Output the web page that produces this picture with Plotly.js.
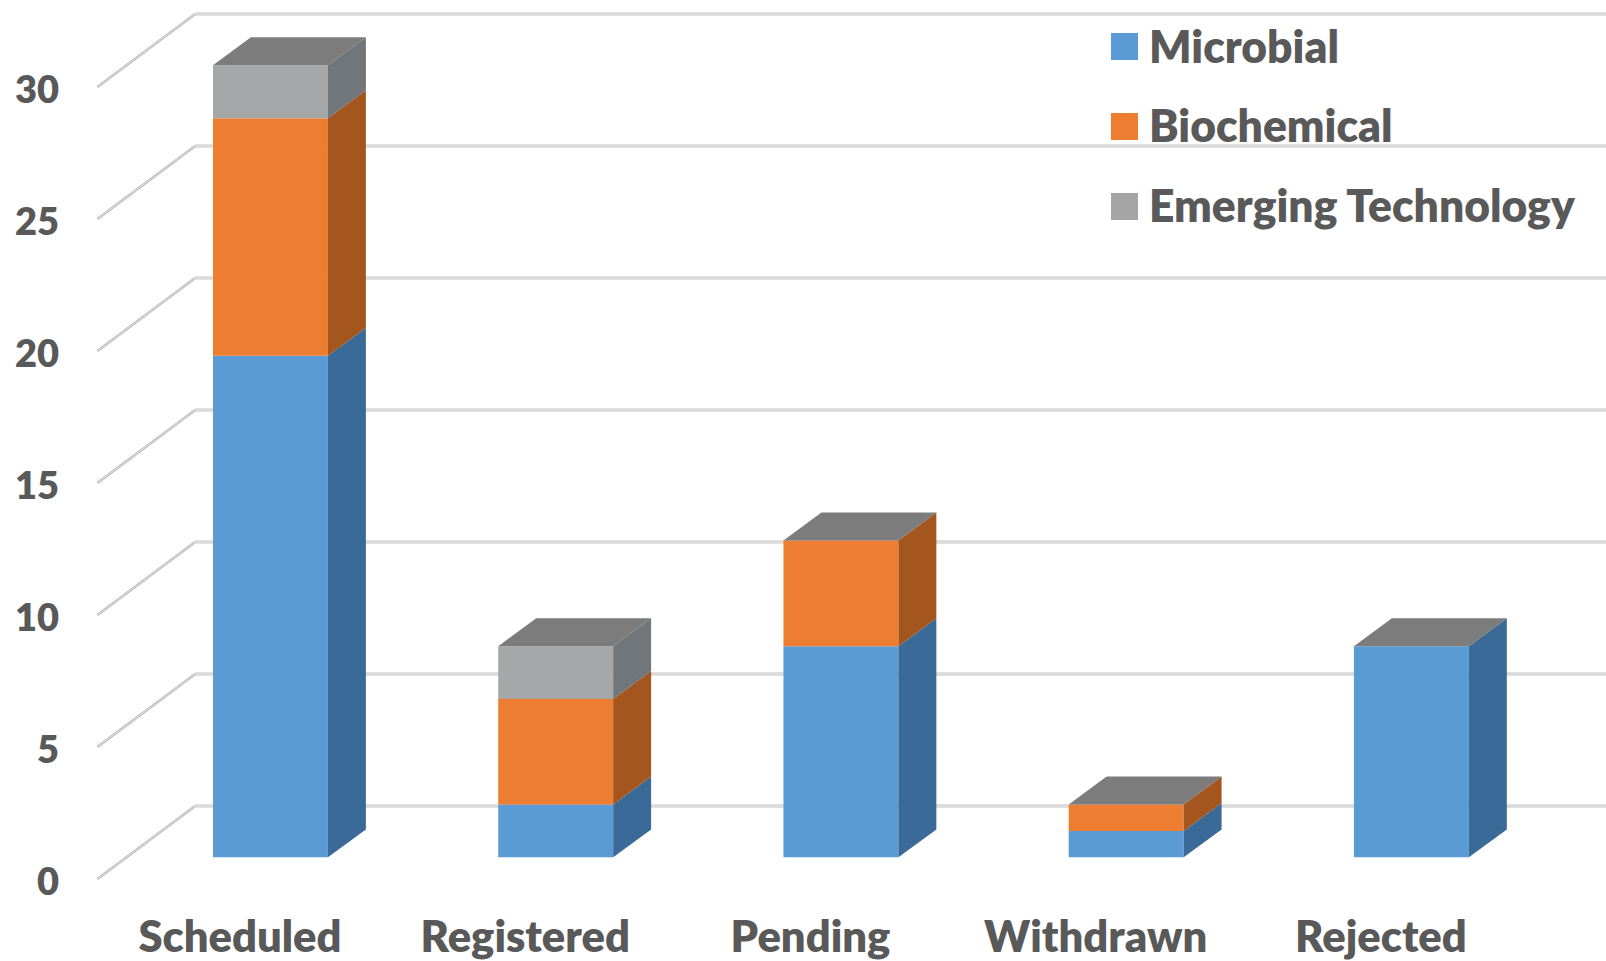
<!DOCTYPE html>
<html>
<head>
<meta charset="utf-8">
<script src="https://cdn.plot.ly/plotly-3.0.1.min.js"></script>
<style>html,body{margin:0;padding:0;background:#fff;overflow:hidden}</style>
</head>
<body>
<div id="chart" style="width:1606px;height:961px"></div>
<script>
// Stacked counts per registration status
const categories = ["Scheduled", "Registered", "Pending", "Withdrawn", "Rejected"];
const microbial = [19, 2, 8, 1, 8];
const biochemical = [9, 4, 4, 1, 0];
const emerging = [2, 2, 0, 0, 0];
const yTicks = [0, 5, 10, 15, 20, 25, 30];

const seriesList = [
  {name: "Microbial", values: microbial, front: "#5B9BD5", side: "#3A6A98"},
  {name: "Biochemical", values: biochemical, front: "#ED7D31", side: "#A5561F"},
  {name: "Emerging Technology", values: emerging, front: "#A5A7A8", side: "#70767A"}
];
const topColor = "#7C7C7C";

// Perspective of the box: bars stand on a floor between the front edge and the back wall
const barLeft = -0.0947, barWidth = 0.403;
const floorLift = 0.82;
const depthX = 0.133, depthY = 1.06;
const wallX = 0.343, wallY = 2.765;
const xStart = -0.5, xEnd = 4.79;

const positions = categories.map((_, i) => i);
const traces = [];
const running = categories.map(() => floorLift);

seriesList.forEach(s => {
  const bases = running.slice();
  traces.push({
    type: "bar", name: s.name, x: positions, y: s.values, base: bases,
    offset: barLeft, width: barWidth,
    marker: {color: s.front, line: {width: 0}}, showlegend: false,
    hovertemplate: "%{text}: " + "%{customdata}<extra>" + s.name + "</extra>",
    text: categories, textposition: "none", customdata: s.values
  });
  // right-hand face of this segment
  const sx = [], sy = [];
  positions.forEach((p, i) => {
    const xr = p + barLeft + barWidth;
    const y0 = bases[i], y1 = bases[i] + s.values[i];
    sx.push(xr, xr + depthX, xr + depthX, xr, xr, null);
    sy.push(y0, y0 + depthY, y1 + depthY, y1, y0, null);
    running[i] = y1;
  });
  traces.push({
    type: "scatter", mode: "lines", x: sx, y: sy, fill: "toself", fillcolor: s.side,
    line: {width: 0, color: s.side}, hoverinfo: "skip", showlegend: false
  });
});

// top face of every stack
const tx = [], ty = [];
positions.forEach((p, i) => {
  const xl = p + barLeft, xr = xl + barWidth, y = running[i];
  tx.push(xl, xr, xr + depthX, xl + depthX, xl, null);
  ty.push(y, y, y + depthY, y + depthY, y, null);
});
traces.push({
  type: "scatter", mode: "lines", x: tx, y: ty, fill: "toself", fillcolor: topColor,
  line: {width: 0, color: topColor}, hoverinfo: "skip", showlegend: false
});

// wall gridlines and the diagonal floor/side rules, as a wide band with a pale core
const shapes = [];
function rule(x0, y0, x1, y1, color, w, w2) {
  shapes.push({type: "line", layer: "below", xref: "x", yref: "y", x0, y0, x1, y1,
    line: {color, width: w}});
  shapes.push({type: "line", layer: "below", xref: "x", yref: "y", x0, y0, x1, y1,
    line: {color: "#F2F2F2", width: w2}});
}
yTicks.forEach(v => {
  rule(xStart, v, xStart + wallX, v + wallY, "#B4B4B4", 2.4, 0.8);
  rule(xStart + wallX, v + wallY, xEnd, v + wallY, "#C4C4C4", 3.2, 1.2);
});

// legend block in the upper right
const plotL = 90, plotW = 1516, plotH = 900;
const annotations = [];
seriesList.forEach((s, i) => {
  const top = 33 + i * 80;
  shapes.push({type: "rect", layer: "above", xref: "paper", yref: "paper",
    x0: (1111 - plotL) / plotW, x1: (1138 - plotL) / plotW,
    y0: 1 - (top + 27) / plotH, y1: 1 - top / plotH,
    fillcolor: s.front === "#A5A7A8" ? "#A5A5A5" : s.front, line: {width: 0}});
  annotations.push({xref: "paper", yref: "paper", xanchor: "left", yanchor: "middle",
    x: (1147 - plotL) / plotW, y: 1 - (top + 12) / plotH, text: s.name, showarrow: false,
    font: {family: "Lato, sans-serif", size: 44.4, color: "#595959", weight: 800}});
});

const layout = {
  width: 1606, height: 961,
  margin: {l: plotL, r: 0, t: 0, b: 61, pad: 0},
  paper_bgcolor: "#fff", plot_bgcolor: "#fff",
  barmode: "overlay",
  showlegend: false,
  xaxis: {
    type: "linear", range: [-0.5259, 4.789], tickmode: "array",
    tickvals: positions, ticktext: categories,
    showgrid: false, zeroline: false, showline: false, ticks: "", fixedrange: true,
    ticklabelstandoff: 7,
    tickfont: {family: "Lato, sans-serif", size: 43.5, color: "#595959", weight: 800}
  },
  yaxis: {
    range: [-0.795, 33.295], tickmode: "array", tickvals: yTicks,
    ticktext: yTicks.map(String),
    showgrid: false, zeroline: false, showline: false, ticks: "", fixedrange: true,
    ticklabelstandoff: 30, ticklabelshift: 3,
    tickfont: {family: "Lato, sans-serif", size: 38, color: "#595959", weight: 800}
  },
  shapes, annotations
};

Plotly.newPlot("chart", traces, layout, {displayModeBar: false, responsive: false});
</script>
</body>
</html>
